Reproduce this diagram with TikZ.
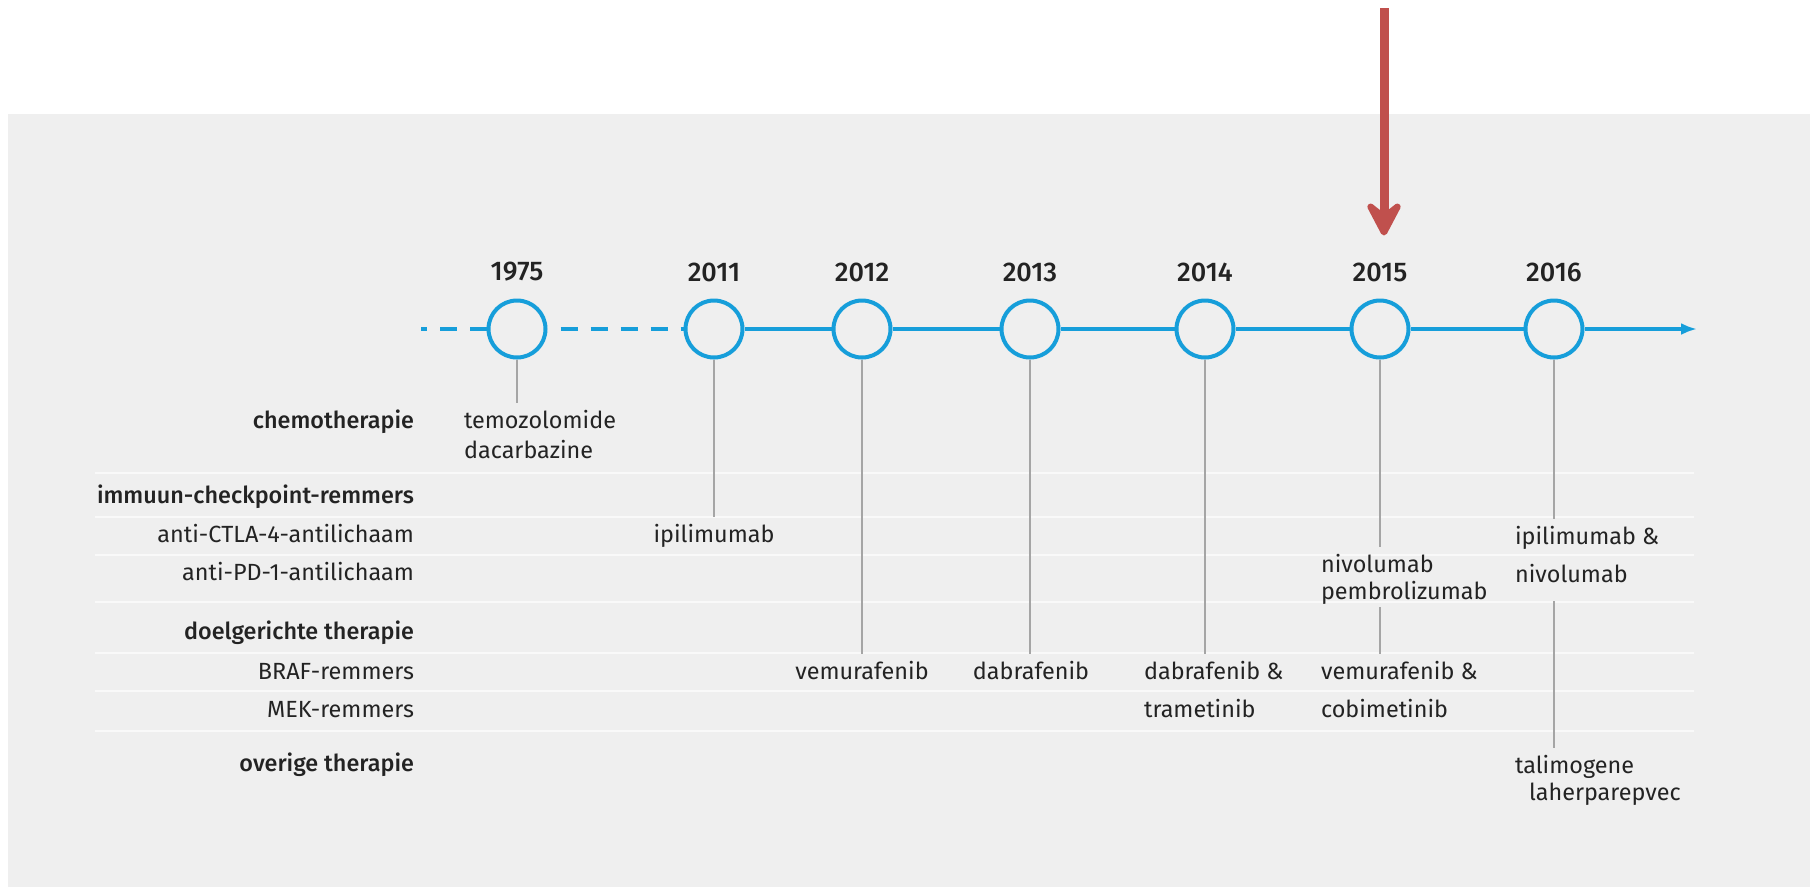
\documentclass[tikz,border=0pt]{standalone}
\usepackage{fontspec}
\setmainfont{Fira Sans}[BoldFont={Fira Sans Medium}]
\usetikzlibrary{arrows.meta}
\definecolor{panelgray}{RGB}{239,239,239}
\definecolor{rowline}{RGB}{249,249,249}
\definecolor{tlblue}{RGB}{22,158,218}
\definecolor{stemgray}{RGB}{165,165,165}
\definecolor{txtdark}{RGB}{35,35,35}
\definecolor{markred}{RGB}{192,80,77}

\begin{document}
\begin{tikzpicture}[x=0.5pt, y=-0.5pt, font=\fontsize{11.7}{14}\selectfont, text=txtdark,
    year/.style={font=\fontsize{13.5}{16}\selectfont\bfseries},
    milestone/.style={circle, draw=tlblue, line width=2pt, minimum size=28.5pt, inner sep=0pt},
    axis/.style={draw=tlblue, line width=2pt},
    gap/.style={dash pattern=on 8.5pt off 6.5pt},
    stem/.style={draw=stemgray, line width=0.7pt},
    group/.style={anchor=base east, font=\fontsize{11.7}{14}\selectfont\bfseries},
    sub/.style={anchor=base east},
    drug/.style={anchor=base west},
    drugc/.style={anchor=base},
    rowsep/.style={draw=rowline, line width=1pt}]
    \useasboundingbox (0,0) rectangle (1816,891);
    \fill[panelgray] (8,114) rectangle (1810,887);

    % row separators
    \foreach \y in {473,517,555,602,653,691,731}
        \draw[rowsep] (95,\y) -- (1694,\y);

    % years on the time line
    \foreach \yr/\x in {1975/517, 2011/714, 2012/862, 2013/1030, 2014/1205, 2015/1380, 2016/1554} {
        \node[milestone] (c\yr) at (\x, 329) {};
        \node[year] (y\yr) at (\x, 272) {\yr};
    }
    \coordinate (tlstart) at (421, 329);
    \coordinate (tlend) at (1697, 329);
    \draw[axis, gap] (c1975) -- (tlstart);
    \draw[axis, gap, dash phase=8.5pt] (c1975) -- (c2011);
    \draw[axis, -{Latex[length=8pt, width=6pt]}] (c2011) -- (c2012) -- (c2013) -- (c2014) -- (c2015) -- (c2016) -- (tlend);

    % marker
    \coordinate (redtop) at (1384, 8);
    \draw[markred, line width=4.5pt, shorten >=10pt, -{Stealth[length=22pt, width=23pt, inset=9pt, round]}] (redtop) -- (redtop |- y2015.north);

    % row labels
    \node[group] (lchemo) at (421, 428) {chemotherapie};
    \node[group] (limmuun) at (421, 503) {immuun-checkpoint-remmers};
    \node[sub] (lctla) at (421, 542) {anti-CTLA-4-antilichaam};
    \node[sub] (lpd) at (421, 580) {anti-PD-1-antilichaam};
    \node[group] (ldoel) at (421, 639) {doelgerichte therapie};
    \node[sub] (lbraf) at (421, 679) {BRAF-remmers};
    \node[sub] (lmek) at (421, 717) {MEK-remmers};
    \node[group] (lover) at (421, 771) {overige therapie};

    % drugs
    \node[drug] (temo) at (457, 428) {temozolomide};
    \node[drug] (dacar) at (457, 458) {dacarbazine};
    \node[drugc] (ipi11) at (714, 542) {ipilimumab};
    \node[drugc] (vem12) at (862, 679) {vemurafenib};
    \node[drugc] (dab13) at (1031, 679) {dabrafenib};
    \node[drug] (dab14) at (1137, 679) {dabrafenib \&};
    \node[drug] (tram14) at (1137, 717) {trametinib};
    \node[drug] (nivo15) at (1314, 572) {nivolumab};
    \node[drug] (pembro15) at (1314, 599) {pembrolizumab};
    \node[drug] (vem15) at (1314, 679) {vemurafenib \&};
    \node[drug] (cobi15) at (1314, 717) {cobimetinib};
    \node[drug] (ipi16) at (1508, 544) {ipilimumab \&};
    \node[drug] (nivo16) at (1508, 582) {nivolumab};
    \node[drug] (tvec16) at (1508, 773) {talimogene};
    \node[drug] (laher16) at (1522, 800) {laherparepvec};

    % stems
    \draw[stem] (c1975.south) -- (c1975 |- temo.north);
    \draw[stem] (c2011.south) -- (ipi11.north);
    \draw[stem] (c2012.south) -- (vem12.north);
    \draw[stem] (c2013.south) -- (c2013 |- dab13.north);
    \draw[stem] (c2014.south) -- (c2014 |- dab14.north);
    \draw[stem] (c2015.south) -- (c2015 |- nivo15.north);
    \draw[stem] ([yshift=2pt]c2015 |- pembro15.south) -- (c2015 |- vem15.north);
    \draw[stem] (c2016.south) -- (c2016 |- ipi16.north);
    \draw[stem] ([yshift=-6pt]c2016 |- nivo16.south) -- (c2016 |- tvec16.north);
\end{tikzpicture}
\end{document}
